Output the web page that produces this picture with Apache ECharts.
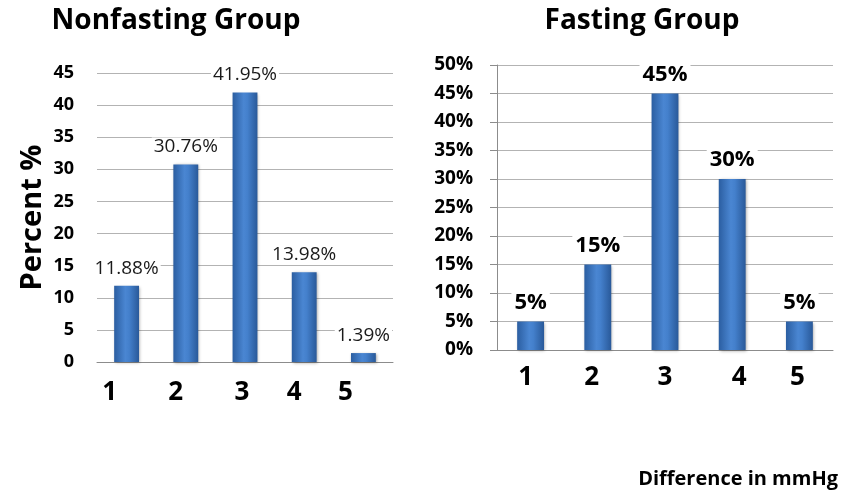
<!DOCTYPE html>
<html>
<head>
<meta charset="utf-8">
<script src="https://cdn.jsdelivr.net/npm/echarts@6/dist/echarts.min.js"></script>
<style>
  html, body { margin: 0; padding: 0; background: #fff; }
  #chart { width: 848px; height: 496px; }
</style>
</head>
<body>
<div id="chart"></div>
<script>
// Distribution of blood-pressure difference (mmHg classes) in two groups
const categories = ['1', '2', '3', '4', '5'];
const nonfastingValues = [11.88, 30.76, 41.95, 13.98, 1.39];
const fastingValues = [5, 15, 45, 30, 5];
const nonfastingTicks = [0, 5, 10, 15, 20, 25, 30, 35, 40, 45];
const fastingTicks = [0, 5, 10, 15, 20, 25, 30, 35, 40, 45, 50];

// Horizontal shift (px) of each category label under the bars
const leftLabelShift = [-17, -10, -3, -10, -18];
const rightLabelShift = [-5, -6, 0, 7, -2];

const FONT = '"Open Sans", Lato, sans-serif';

function shiftedRich(shifts) {
  const rich = {};
  shifts.forEach((d, i) => {
    rich['c' + i] = {
      fontFamily: FONT, fontWeight: 'bold', fontSize: 26, color: '#000',
      padding: d < 0 ? [0, -2 * d, 0, 0] : [0, 0, 0, 2 * d]
    };
  });
  return rich;
}

const barColor = {
  type: 'linear', x: 0, y: 0, x2: 1, y2: 0,
  colorStops: [
    { offset: 0, color: '#2b5ea1' },
    { offset: 0.45, color: '#4a86d2' },
    { offset: 0.6, color: '#4480cc' },
    { offset: 1, color: '#295999' }
  ]
};

const chart = echarts.init(document.getElementById('chart'), null, { renderer: 'canvas' });

chart.setOption({
  animation: false,
  backgroundColor: '#fff',
  title: [
    { text: 'Nonfasting Group', left: 171, top: 2, textAlign: 'center',
      textStyle: { fontFamily: FONT, fontWeight: 'bold', fontSize: 28, color: '#000' } },
    { text: 'Fasting Group', left: 637, top: 2, textAlign: 'center',
      textStyle: { fontFamily: FONT, fontWeight: 'bold', fontSize: 28, color: '#000' } },
    { text: 'Difference in mmHg', right: 5, top: 464,
      textStyle: { fontFamily: FONT, fontWeight: 'bold', fontSize: 20, color: '#000' } }
  ],
  grid: [
    { left: 97, right: 455, top: 73, bottom: 134 },
    { left: 497, right: 15, top: 65, bottom: 146 }
  ],
  xAxis: [
    {
      gridIndex: 0, type: 'category', data: categories,
      axisLine: { lineStyle: { color: '#8c8c8c' } },
      axisTick: { length: 7, lineStyle: { color: '#8c8c8c' } },
      axisLabel: {
        margin: 18,
        formatter: (v, i) => '{c' + i + '|' + v + '}',
        rich: shiftedRich(leftLabelShift)
      }
    },
    {
      gridIndex: 1, type: 'category', data: categories,
      axisLine: { lineStyle: { color: '#8c8c8c' } },
      axisTick: { length: 7, lineStyle: { color: '#8c8c8c' } },
      axisLabel: {
        margin: 15,
        formatter: (v, i) => '{c' + i + '|' + v + '}',
        rich: shiftedRich(rightLabelShift)
      }
    }
  ],
  yAxis: [
    {
      gridIndex: 0, type: 'value',
      min: nonfastingTicks[0], max: nonfastingTicks[nonfastingTicks.length - 1],
      interval: nonfastingTicks[1] - nonfastingTicks[0],
      name: 'Percent %', nameLocation: 'middle', nameRotate: 90, nameGap: 50,
      nameTextStyle: { fontFamily: FONT, fontWeight: 'bold', fontSize: 29, color: '#000' },
      axisLine: { show: false },
      axisTick: { show: false },
      splitLine: { lineStyle: { color: '#b3b3b3' } },
      axisLabel: { margin: 23, fontFamily: FONT, fontWeight: 'bold', fontSize: 18, color: '#000' }
    },
    {
      gridIndex: 1, type: 'value',
      min: fastingTicks[0], max: fastingTicks[fastingTicks.length - 1],
      interval: fastingTicks[1] - fastingTicks[0],
      axisLine: { show: true, lineStyle: { color: '#8c8c8c' } },
      axisTick: { show: true, length: 7, lineStyle: { color: '#8c8c8c' } },
      splitLine: { lineStyle: { color: '#b3b3b3' } },
      axisLabel: { margin: 24, formatter: '{value}%', fontFamily: FONT, fontWeight: 'bold', fontSize: 19, color: '#000' }
    }
  ],
  series: [
    {
      type: 'bar', xAxisIndex: 0, yAxisIndex: 0, data: nonfastingValues,
      barWidth: '42%',
      itemStyle: { color: barColor, shadowColor: 'rgba(0,0,0,0.35)', shadowBlur: 3, shadowOffsetX: 1, shadowOffsetY: 1 },
      label: {
        show: true, position: 'top', distance: 8,
        formatter: p => p.value + '%',
        fontFamily: FONT, fontSize: 19, color: '#1a1a1a',
        backgroundColor: '#fff', padding: [0, 2]
      }
    },
    {
      type: 'bar', xAxisIndex: 1, yAxisIndex: 1, data: fastingValues,
      barWidth: '40%',
      itemStyle: { color: barColor, shadowColor: 'rgba(0,0,0,0.35)', shadowBlur: 3, shadowOffsetX: 1, shadowOffsetY: 1 },
      label: {
        show: true, position: 'top', distance: 8,
        formatter: p => p.value + '%',
        fontFamily: FONT, fontWeight: 'bold', fontSize: 22, color: '#000',
        backgroundColor: '#fff', padding: [0, 3]
      }
    }
  ]
});
</script>
</body>
</html>
